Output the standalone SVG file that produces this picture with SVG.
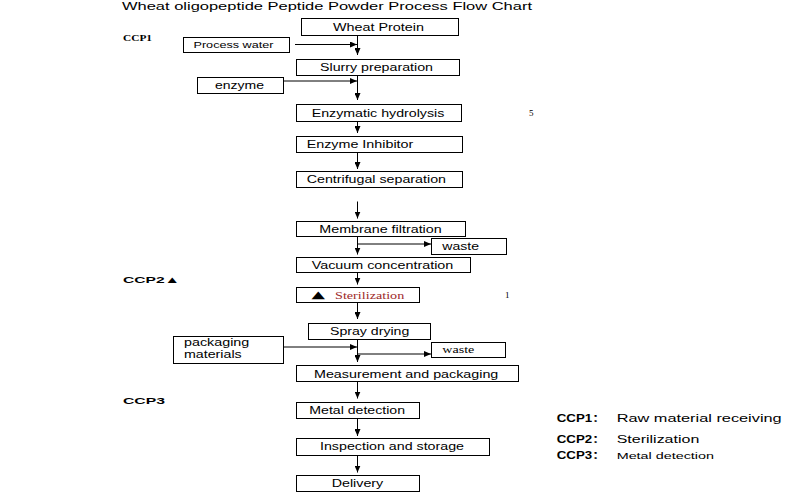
<svg xmlns="http://www.w3.org/2000/svg" width="800" height="500" viewBox="0 0 800 500">
<style>
.box{fill:#fff;stroke:#000;stroke-width:1}
.t{font-family:"Liberation Sans",Arial,sans-serif;font-size:10.5px;fill:#000}
.s{font-family:"Liberation Serif","Times New Roman",serif;fill:#000}
.b{font-family:"Liberation Sans",Arial,"DejaVu Sans",sans-serif;font-weight:bold;font-size:9.5px;fill:#000}
.lg{font-family:"Liberation Sans",Arial,"Noto Sans CJK SC",sans-serif;font-weight:bold;font-size:10px;fill:#000}
.c{stroke:#000;stroke-width:1;fill:none;marker-end:url(#ah)}
.red{fill:#9e2a2b}
</style>
<defs>
<marker id="ah" viewBox="0 0 7 6" refX="7" refY="3" markerWidth="7" markerHeight="6" markerUnits="userSpaceOnUse" orient="auto">
<path d="M0,0 L7,3 L0,6 z" fill="#000"/>
</marker>
</defs>
<rect width="800" height="500" fill="#fff"/>

<text class="t" x="122" y="10" textLength="410" lengthAdjust="spacingAndGlyphs">Wheat oligopeptide Peptide Powder Process Flow Chart</text>

<g id="ccp-labels">
<text class="s" x="123" y="41" style="font-size:9px;font-weight:bold" textLength="29" lengthAdjust="spacingAndGlyphs">CCP1</text>
<text class="b" x="123" y="282.5" textLength="57" lengthAdjust="spacingAndGlyphs">CCP2▲</text>
<text class="b" x="123" y="403.5" textLength="42" lengthAdjust="spacingAndGlyphs">CCP3</text>
<text class="s" x="529" y="116" style="font-size:9px">5</text>
<text class="s" x="505" y="298" style="font-size:9px">1</text>
</g>

<g id="connectors">
<line class="c" x1="357.5" y1="36" x2="357.5" y2="55"/>
<line class="c" x1="295" y1="44.5" x2="357" y2="44.5"/>
<line class="c" x1="357.5" y1="76" x2="357.5" y2="100"/>
<line class="c" x1="283" y1="81" x2="357" y2="81"/>
<line class="c" x1="357.5" y1="109" x2="357.5" y2="133"/>
<line class="c" x1="357.5" y1="153" x2="357.5" y2="169"/>
<line class="c" x1="357.5" y1="201.5" x2="357.5" y2="218.5"/>
<line class="c" x1="357.5" y1="237" x2="357.5" y2="254.5"/>
<line class="c" x1="357.5" y1="244" x2="431" y2="244"/>
<line class="c" x1="357.5" y1="273" x2="357.5" y2="284.5"/>
<line class="c" x1="357.5" y1="303" x2="357.5" y2="319"/>
<line class="c" x1="283" y1="347" x2="357" y2="347"/>
<line class="c" x1="357.5" y1="340" x2="357.5" y2="362"/>
<line class="c" x1="357.5" y1="354" x2="431" y2="354"/>
<line class="c" x1="357.5" y1="382" x2="357.5" y2="398.5"/>
<line class="c" x1="357.5" y1="419" x2="357.5" y2="436"/>
<line class="c" x1="357.5" y1="455" x2="357.5" y2="472.5"/>
</g>

<g id="wheat-protein"><rect class="box" x="301.5" y="18.5" width="157" height="17"/>
<text class="t" x="333" y="30.7" textLength="91" lengthAdjust="spacingAndGlyphs">Wheat Protein</text></g>

<g id="process-water"><rect class="box" x="183.5" y="37.5" width="106" height="15"/>
<text class="t" x="193.5" y="47.8" style="font-size:9px" textLength="80" lengthAdjust="spacingAndGlyphs">Process water</text></g>

<g id="slurry"><rect class="box" x="296.5" y="59.5" width="163" height="16"/>
<text class="t" x="320" y="71" textLength="113" lengthAdjust="spacingAndGlyphs">Slurry preparation</text></g>

<g id="enzyme"><rect class="box" x="197.5" y="77.5" width="86" height="16"/>
<text class="t" x="215" y="88.5" style="font-size:10px" textLength="49" lengthAdjust="spacingAndGlyphs">enzyme</text></g>

<g id="hydrolysis"><rect class="box" x="296.5" y="104.5" width="165" height="17"/>
<text class="t" x="311.7" y="116.7" textLength="132.6" lengthAdjust="spacingAndGlyphs">Enzymatic hydrolysis</text></g>

<g id="inhibitor"><rect class="box" x="296.5" y="136.5" width="166" height="16"/>
<text class="t" x="306.7" y="148.3" textLength="106.6" lengthAdjust="spacingAndGlyphs">Enzyme Inhibitor</text></g>

<g id="centrifugal"><rect class="box" x="296.5" y="171.5" width="166" height="16"/>
<text class="t" x="306.7" y="183.3" textLength="139.3" lengthAdjust="spacingAndGlyphs">Centrifugal separation</text></g>

<g id="membrane"><rect class="box" x="296.5" y="221.5" width="169" height="15"/>
<text class="t" x="319.3" y="232.5" textLength="122.4" lengthAdjust="spacingAndGlyphs">Membrane filtration</text></g>

<g id="waste1"><rect class="box" x="431.5" y="238.5" width="75" height="16"/>
<text class="t" x="442.3" y="250" style="font-size:10px" textLength="36.7" lengthAdjust="spacingAndGlyphs">waste</text></g>

<g id="vacuum"><rect class="box" x="296.5" y="257.5" width="174" height="15"/>
<text class="t" x="311.7" y="268.5" textLength="141.6" lengthAdjust="spacingAndGlyphs">Vacuum concentration</text></g>

<g id="sterilization"><rect class="box" x="296.5" y="287.5" width="123" height="15"/>
<text x="311.5" y="298.3" style="font-family:'DejaVu Sans',sans-serif;font-size:10px;fill:#000" textLength="13.5" lengthAdjust="spacingAndGlyphs">▲</text>
<text class="s red" x="335" y="298.5" style="font-size:10px" textLength="69.3" lengthAdjust="spacingAndGlyphs">Sterilization</text></g>

<g id="spray"><rect class="box" x="308.5" y="323.5" width="122" height="16"/>
<text class="t" x="330" y="335" textLength="79.3" lengthAdjust="spacingAndGlyphs">Spray drying</text></g>

<g id="packaging-materials"><rect class="box" x="173.5" y="336.5" width="110" height="27"/>
<text class="t" x="184" y="346" style="font-size:10px" textLength="65.3" lengthAdjust="spacingAndGlyphs">packaging</text>
<text class="t" x="184" y="358" style="font-size:10px" textLength="57.7" lengthAdjust="spacingAndGlyphs">materials</text></g>

<g id="waste2"><rect class="box" x="431.5" y="342.5" width="74" height="15"/>
<text class="s" x="442.3" y="352.5" style="font-size:9.5px" textLength="32" lengthAdjust="spacingAndGlyphs">waste</text></g>

<g id="measurement"><rect class="box" x="296.5" y="365.5" width="222" height="16"/>
<text class="t" x="314" y="377.5" textLength="184.3" lengthAdjust="spacingAndGlyphs">Measurement and packaging</text></g>

<g id="metal"><rect class="box" x="296.5" y="402.5" width="123" height="16"/>
<text class="t" x="309.3" y="413.7" textLength="95.7" lengthAdjust="spacingAndGlyphs">Metal detection</text></g>

<g id="inspection"><rect class="box" x="296.5" y="438.5" width="193" height="17"/>
<text class="t" x="320" y="450.3" textLength="144" lengthAdjust="spacingAndGlyphs">Inspection and storage</text></g>

<g id="delivery"><rect class="box" x="296.5" y="475.5" width="123" height="16"/>
<text class="t" x="331.7" y="487" textLength="51.6" lengthAdjust="spacingAndGlyphs">Delivery</text></g>

<g id="legend">
<text class="lg" transform="translate(556.7,421.7) scale(1.33,1)">CCP1：</text>
<text class="t" x="616.7" y="421.7" textLength="165" lengthAdjust="spacingAndGlyphs">Raw material receiving</text>
<text class="lg" transform="translate(556.7,442.7) scale(1.33,1)">CCP2：</text>
<text class="t" x="616.7" y="442.7" textLength="82.6" lengthAdjust="spacingAndGlyphs">Sterilization</text>
<text class="lg" transform="translate(556.7,458.5) scale(1.33,1)">CCP3：</text>
<text class="t" x="616.7" y="458.5" style="font-size:9px" textLength="97.3" lengthAdjust="spacingAndGlyphs">Metal detection</text>
</g>
</svg>
